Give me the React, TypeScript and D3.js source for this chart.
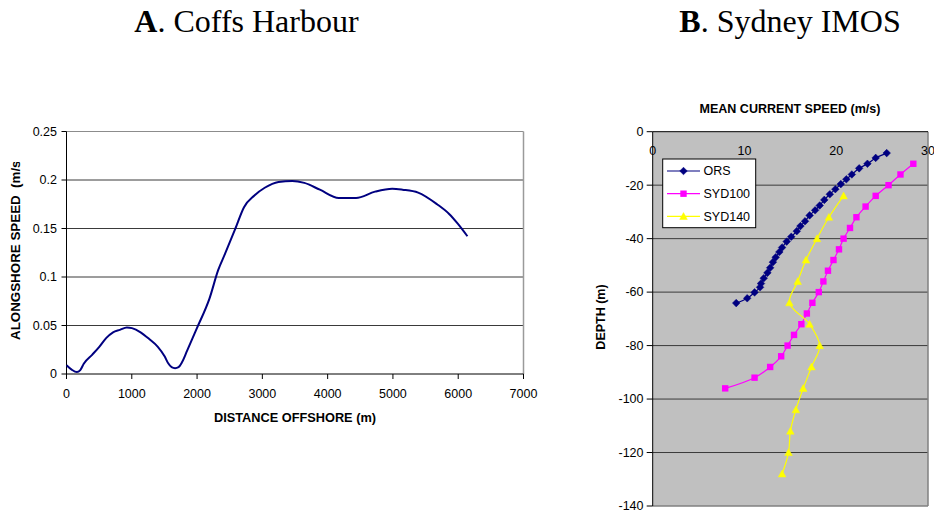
import React from "react";
import * as d3 from "d3";

// ---- Chart A data: Coffs Harbour alongshore speed ----
const distA = [0, 79, 158, 211, 264, 396, 502, 607, 713, 818, 924, 1003, 1135, 1267, 1399, 1505, 1558, 1610, 1663, 1716, 1769, 1848, 1996, 2191, 2323, 2429, 2587, 2719, 2878, 3036, 3247, 3458, 3643, 3881, 4171, 4435, 4726, 4990, 5148, 5386, 5676, 5861, 5993, 6141];
const speedA = [0.009, 0.0045, 0.002, 0.004, 0.0106, 0.02, 0.028, 0.037, 0.043, 0.0455, 0.048, 0.0473, 0.043, 0.036, 0.028, 0.018, 0.011, 0.007, 0.006, 0.007, 0.012, 0.024, 0.047, 0.078, 0.107, 0.124, 0.15, 0.172, 0.184, 0.192, 0.198, 0.199, 0.197, 0.19, 0.1815, 0.1815, 0.188, 0.191, 0.19, 0.187, 0.175, 0.165, 0.155, 0.142];
const xTicksA = [0, 1000, 2000, 3000, 4000, 5000, 6000, 7000];
const yTicksA = [0, 0.05, 0.1, 0.15, 0.2, 0.25];

// ---- Chart B data: Sydney IMOS mean current speed ----
const orsDepth = [-8, -9.8, -12, -13.7, -16, -17.8, -19.6, -21.5, -23.4, -25.5, -27.6, -29.4, -31.3, -33.5, -35.3, -37.2, -39.3, -41.1, -43.3, -45, -47, -48.8, -50.9, -52.8, -54.8, -56.8, -58.2, -60.1, -62.3, -64.1];
const orsSpeed = [25.5, 24.3, 23.4, 22.5, 21.7, 21.1, 20.5, 19.9, 19.3, 18.7, 18.2, 17.7, 17.1, 16.6, 16.1, 15.7, 15.1, 14.6, 14.1, 13.8, 13.4, 13.1, 12.8, 12.5, 12.1, 11.8, 11.7, 11.1, 10.3, 9.1];
const syd100Depth = [-12, -16, -20, -24, -28, -32, -36, -40, -44, -48, -52, -56, -60, -64, -68, -72, -76, -80, -84, -88, -92, -96];
const syd100Speed = [28.4, 27.0, 25.7, 24.3, 23.2, 22.2, 21.5, 20.8, 20.3, 19.7, 19.1, 18.6, 18.1, 17.4, 16.8, 16.2, 15.4, 14.7, 14.0, 12.8, 11.1, 7.9];
const syd140Depth = [-24, -32, -40, -48, -56, -64, -72, -80, -88, -96, -104, -112, -120, -128];
const syd140Speed = [20.8, 19.2, 17.9, 16.7, 15.8, 14.9, 17.1, 18.2, 17.3, 16.4, 15.6, 15.0, 14.8, 14.1];
const xTicksB = [0, 10, 20, 30];
const yTicksB = [0, -20, -40, -60, -80, -100, -120, -140];
const seriesNames = ["ORS", "SYD100", "SYD140"];

const FONT = "'Liberation Sans', Arial, Helvetica, sans-serif";
const SERIF = "'Liberation Serif', 'Times New Roman', serif";

function diamond(cx: number, cy: number, r: number) {
  return `M${cx},${cy - r}L${cx + r},${cy}L${cx},${cy + r}L${cx - r},${cy}Z`;
}
function triangle(cx: number, cy: number, r: number) {
  return `M${cx},${cy - r}L${cx + r},${cy + r * 0.8}L${cx - r},${cy + r * 0.8}Z`;
}

function Marker({ type, x, y, color }: { type: string; x: number; y: number; color: string }) {
  if (type === "diamond") return <path d={diamond(x, y, 3.8)} fill={color} stroke={color} strokeWidth={0.5} />;
  if (type === "square") return <rect x={x - 3.2} y={y - 3.2} width={6.4} height={6.4} fill={color} />;
  return <path d={triangle(x, y, 3.8)} fill={color} stroke={color} strokeWidth={0.5} />;
}

export default function App() {
  // Chart A scales
  const xA = d3.scaleLinear().domain([0, 7000]).range([66.5, 523.5]);
  const yA = d3.scaleLinear().domain([0, 0.25]).range([374, 131.5]);
  const lineA = d3
    .line<number>()
    .x((_, i) => xA(distA[i]))
    .y((d) => yA(d))
    .curve(d3.curveMonotoneX);

  // Chart B scales
  const xB = d3.scaleLinear().domain([0, 30]).range([652.7, 928]);
  const yB = d3.scaleLinear().domain([0, -140]).range([131.7, 506]);
  const lineB = (sp: number[], dp: number[]) =>
    d3
      .line<number>()
      .x((d) => xB(d))
      .y((_, i) => yB(dp[i]))
      .curve(d3.curveCatmullRom.alpha(0.5))(sp) || "";

  const seriesB = [
    { name: seriesNames[0], sp: orsSpeed, dp: orsDepth, color: "#000080", type: "diamond" },
    { name: seriesNames[1], sp: syd100Speed, dp: syd100Depth, color: "#FF00FF", type: "square" },
    { name: seriesNames[2], sp: syd140Speed, dp: syd140Depth, color: "#FFFF00", type: "triangle" },
  ];

  const pL = xB.range()[0];
  const pR = xB.range()[1];
  const pT = yB.range()[0];
  const pB = yB.range()[1];

  return (
    <svg
      width={934}
      height={512}
      style={{ position: "absolute", left: 0, top: 0, background: "#fff" }}
      fontFamily={FONT}
    >
      <defs>
        <clipPath id="clipYTitleA">
          <rect x={0} y={162} width={40} height={250} />
        </clipPath>
      </defs>
      <rect width={934} height={512} fill="#fff" />

      {/* Titles */}
      <text x={246.5} y={32} textAnchor="middle" fontFamily={SERIF} fontSize={32} fill="#000">
        <tspan fontWeight="bold">A</tspan>. Coffs Harbour
      </text>
      <text x={790} y={32} textAnchor="middle" fontFamily={SERIF} fontSize={32} fill="#000">
        <tspan fontWeight="bold">B</tspan>. Sydney IMOS
      </text>

      {/* ===== Chart A ===== */}
      {yTicksA.slice(1, -1).map((t) => (
        <line key={"ga" + t} x1={xA(0)} x2={xA(7000)} y1={yA(t)} y2={yA(t)} stroke="#3a3a3a" strokeWidth={1} />
      ))}
      <line x1={xA(0)} x2={xA(7000)} y1={yA(0.25)} y2={yA(0.25)} stroke="#8c8c8c" strokeWidth={1} />
      <line x1={xA(7000)} x2={xA(7000)} y1={yA(0.25)} y2={yA(0)} stroke="#9a9a9a" strokeWidth={1.5} />
      <line x1={xA(0)} x2={xA(0)} y1={yA(0.25)} y2={yA(0)} stroke="#000" strokeWidth={1} />
      <line x1={xA(0)} x2={xA(7000)} y1={yA(0)} y2={yA(0)} stroke="#000" strokeWidth={1} />
      {yTicksA.map((t) => (
        <g key={"ya" + t}>
          <line x1={xA(0) - 5} x2={xA(0)} y1={yA(t)} y2={yA(t)} stroke="#000" />
          <text x={57} y={yA(t)} dy="0.35em" textAnchor="end" fontSize={12.5} fill="#000">
            {String(t)}
          </text>
        </g>
      ))}
      {xTicksA.map((t) => (
        <g key={"xa" + t}>
          <line x1={xA(t)} x2={xA(t)} y1={yA(0)} y2={yA(0) + 5} stroke="#000" />
          <text x={xA(t)} y={397.5} textAnchor="middle" fontSize={12.5} fill="#000">
            {t}
          </text>
        </g>
      ))}
      <path d={lineA(speedA) || ""} fill="none" stroke="#000080" strokeWidth={2} />
      <text x={295} y={422} textAnchor="middle" fontSize={12.5} fontWeight="bold" textLength={162} lengthAdjust="spacingAndGlyphs">
        DISTANCE OFFSHORE (m)
      </text>
      <g clipPath="url(#clipYTitleA)">
        <text
          transform="translate(20,340) rotate(-90)"
          x={0}
          y={0}
          textAnchor="start"
          fontSize={12.5}
          fontWeight="bold"
          textLength={184}
          lengthAdjust="spacingAndGlyphs"
          style={{ whiteSpace: "pre" }}
        >
          {"ALONGSHORE SPEED  (m/s)"}
        </text>
      </g>

      {/* ===== Chart B ===== */}
      <text x={790} y={113} textAnchor="middle" fontSize={12.5} fontWeight="bold" textLength={181} lengthAdjust="spacingAndGlyphs">
        MEAN CURRENT SPEED (m/s)
      </text>
      <rect x={pL} y={pT} width={pR - pL} height={pB - pT} fill="#C0C0C0" />
      {yTicksB.slice(1, -1).map((t) => (
        <line key={"gb" + t} x1={pL} x2={pR} y1={yB(t)} y2={yB(t)} stroke="#3a3a3a" strokeWidth={1} />
      ))}
      <line x1={pL} x2={pR} y1={pB} y2={pB} stroke="#808080" strokeWidth={1.5} />
      <line x1={pR} x2={pR} y1={pT} y2={pB} stroke="#808080" strokeWidth={1.5} />
      <line x1={pL} x2={pR} y1={pT} y2={pT} stroke="#000" strokeWidth={1} />
      <line x1={pL} x2={pL} y1={pT} y2={pB} stroke="#000" strokeWidth={1} />
      {yTicksB.map((t) => (
        <g key={"yb" + t}>
          <line x1={pL - 6} x2={pL} y1={yB(t)} y2={yB(t)} stroke="#000" />
          <text x={643.5} y={yB(t)} dy="0.35em" textAnchor="end" fontSize={12.5} fill="#000">
            {t === 0 ? "0" : "-" + Math.abs(t)}
          </text>
        </g>
      ))}
      {xTicksB.map((t) => (
        <text key={"xb" + t} x={xB(t)} y={154.5} textAnchor="middle" fontSize={12.5} fill="#000">
          {t}
        </text>
      ))}
      <text transform="translate(605,317) rotate(-90)" textAnchor="middle" fontSize={12.5} fontWeight="bold">
        DEPTH (m)
      </text>

      {seriesB.map((s) => (
        <g key={s.name}>
          <path d={lineB(s.sp, s.dp)} fill="none" stroke={s.color} strokeWidth={1.2} />
          {s.sp.map((v, i) => (
            <Marker key={i} type={s.type} x={xB(v)} y={yB(s.dp[i])} color={s.color} />
          ))}
        </g>
      ))}

      {/* Legend */}
      <rect x={662.7} y={159} width={93} height={68.7} fill="#fff" stroke="#000" strokeWidth={1} />
      {seriesB.map((s, i) => {
        const ly = 171 + i * 22.7;
        return (
          <g key={"lg" + s.name}>
            <line x1={667} x2={700} y1={ly} y2={ly} stroke={s.color} strokeWidth={1.2} />
            <Marker type={s.type} x={683.5} y={ly} color={s.color} />
            <text x={703.5} y={ly} dy="0.35em" fontSize={12.5} fill="#000">
              {s.name}
            </text>
          </g>
        );
      })}
    </svg>
  );
}
